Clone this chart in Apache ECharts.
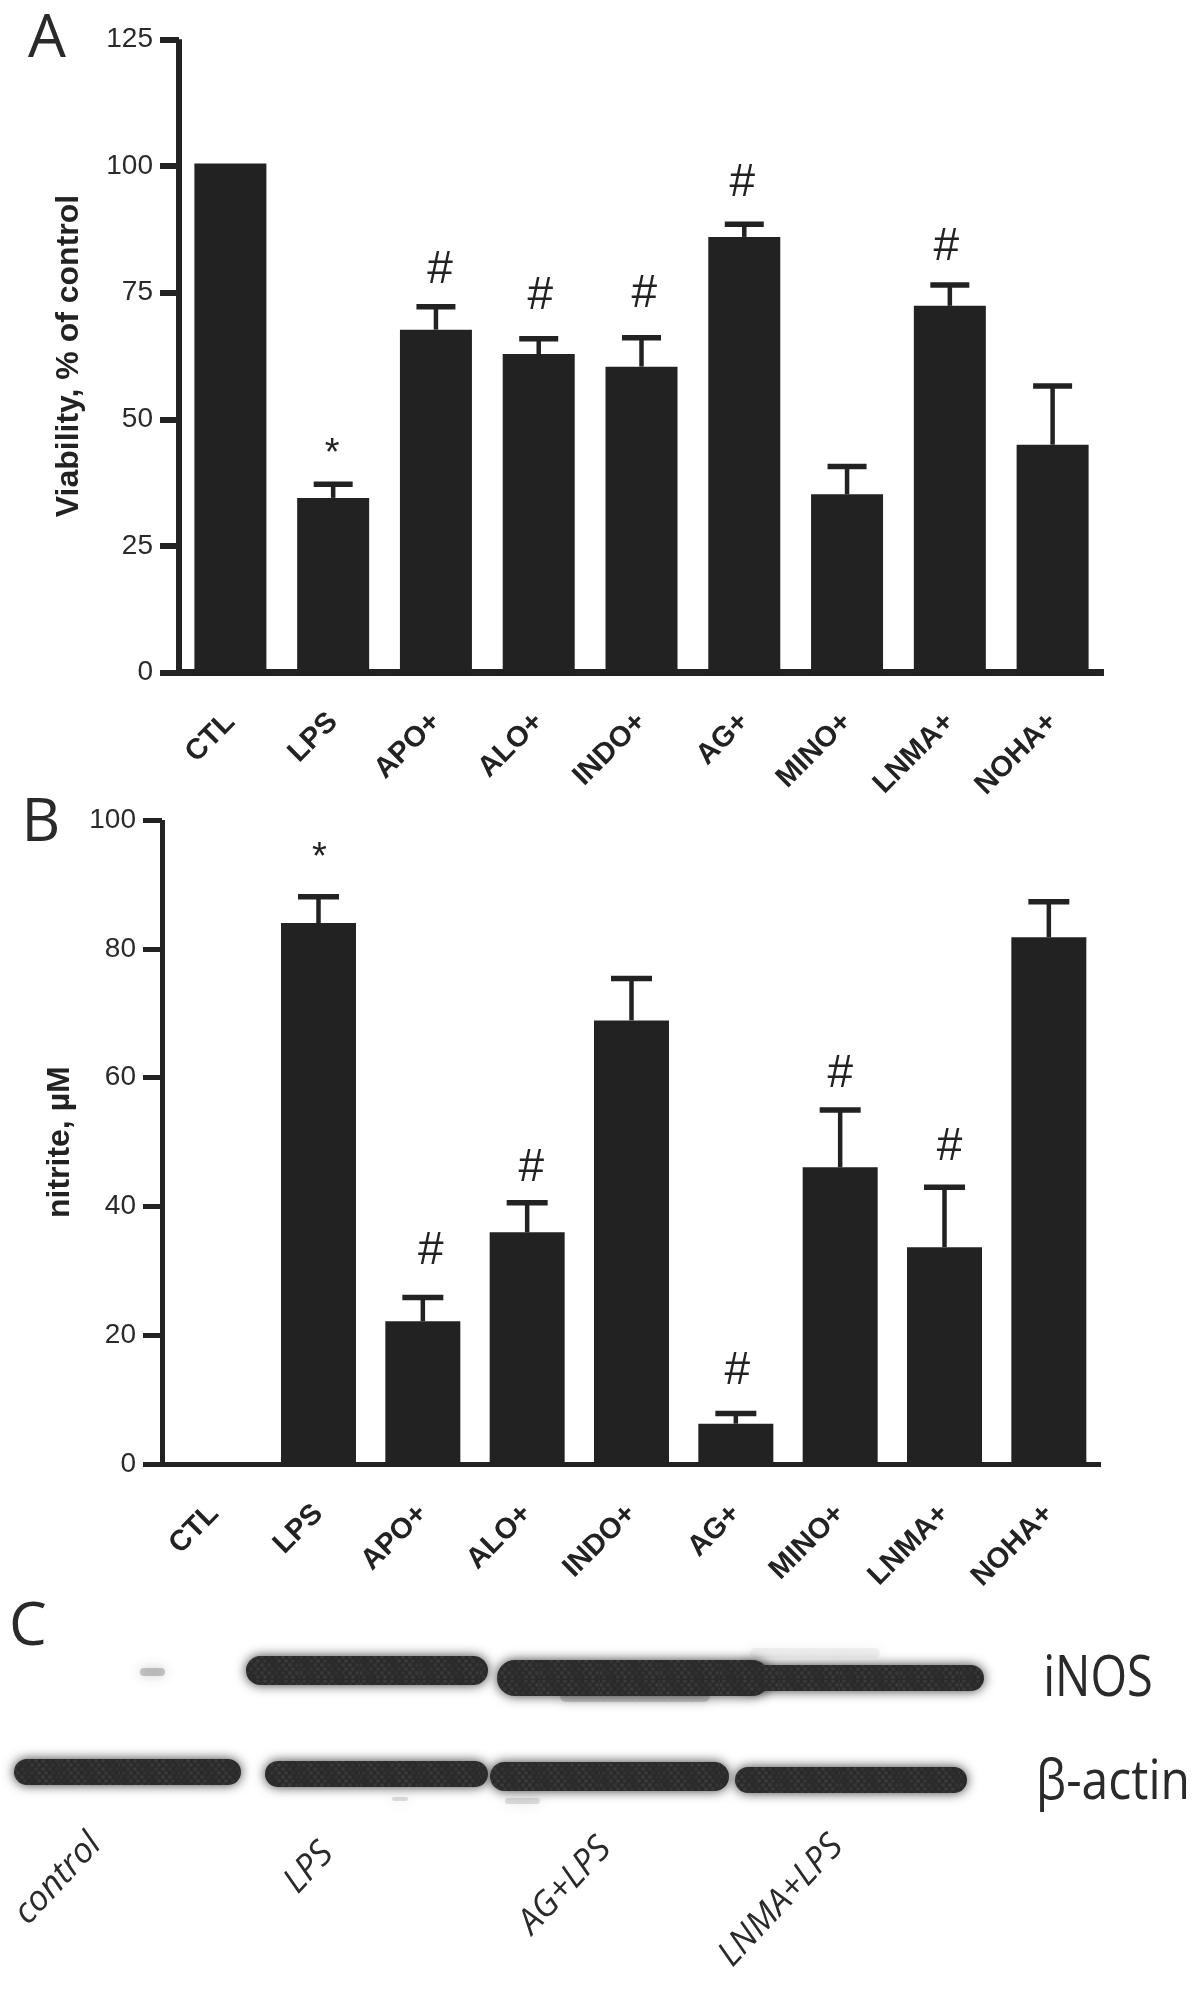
<!DOCTYPE html>
<html><head><meta charset="utf-8">
<style>html,body{margin:0;padding:0;background:#fff}#c{width:1200px;height:1991px}#c canvas{filter:blur(.6px)}</style>
<script src="https://cdn.jsdelivr.net/npm/echarts@6/dist/echarts.min.js"></script>
</head><body><div id="c"></div>
<script>
const categories = ['CTL','LPS','APO+','ALO+','INDO+','AG+','MINO+','LNMA+','NOHA+'];
const viabilityTicks = [0,25,50,75,100,125];
const viability = [100.5,34.5,67.7,62.9,60.4,86,35.2,72.4,45];
const viabilityErrTop = [null,37.2,72.2,65.9,66.1,88.5,40.7,76.5,56.6];
const viabilityMarks = ['', '*','#','#','#','#','','#',''];
const viabilityMarkY = [null,44.3,79.5,74.2,74.7,96.5,null,84,null];
const viabilityMarkDx = [0,-1,4,1.5,2.7,-2,0,-3.6,0];
const nitrite = [0,84,22.2,36,68.9,6.3,46.1,33.7,81.8];
const nitriteErrTop = [null,88.1,25.9,40.6,75.4,7.9,55,43,87.3];
const nitriteMarks = ['', '*','#','#','','#','#','#',''];
const nitriteMarkY = [null,94.9,33,46,null,14.4,60.6,49.2,null];
const nitriteMarkDx = [0,1,8,4,0,1.5,0,5,0];
// Western blot bands: [left, right, top, bottom, opacity] read in panel-C units
const blotBands = [
 [140,165,1668,1676,.25],[560,710,1690,1702,.2],[750,880,1648,1658,.06],
 [246,488,1656,1685,1],[497,770,1660,1696,1],[740,984,1665,1691,1],
 [14,241,1759,1785,1],[265,488,1761,1787,1],[490,729,1762,1791,1],[735,967,1767,1793,1],
 [392,408,1797,1801,.15],[505,540,1798,1804,.14]
];
const blotLanes = [
 {t:'control',x:58,y:1879},{t:'LPS',x:309,y:1868},{t:'AG+LPS',x:565,y:1886},{t:'LNMA+LPS',x:781,y:1901}
];
const INK = '#222222', FONT = '"Liberation Sans", Arial, sans-serif', OPEN = '"Open Sans", sans-serif';

function mottle(){
  const c = document.createElement('canvas'); c.width = c.height = 60;
  const g = c.getContext('2d'); g.fillStyle = '#2a2a2a'; g.fillRect(0,0,60,60);
  for (let y=0;y<60;y+=4) for (let x=(y%8)?0:3;x<60;x+=7){
    const a = .04 + .12*Math.abs(Math.sin(x*12.9+y*78.2));
    g.fillStyle = 'rgba(140,140,140,'+a.toFixed(2)+')';
    g.beginPath(); g.arc(x+1,y+1,2,0,6.3); g.fill();
  }
  return c;
}
const tex = mottle();

function barPanel(i, values, errTop, marks, markY, markDx, barW, capW){
  const rows = categories.map((c,k)=>[k, values[k], errTop[k]]);
  const mrows = categories.map((c,k)=>[k, markY[k], marks[k], markDx[k]]).filter(r=>r[2]);
  return [
   {type:'bar', xAxisIndex:i, yAxisIndex:i, data:values, barWidth:barW, z:2,
    itemStyle:{color:INK}, silent:true},
   {type:'custom', xAxisIndex:i, yAxisIndex:i, z:3, silent:true, clip:false,
    data:rows.filter(r=>r[2]!==null), encode:{x:0,y:[1,2]},
    renderItem:(p,api)=>{
      const a=api.coord([api.value(0),api.value(1)]), b=api.coord([api.value(0),api.value(2)]);
      return {type:'group',children:[
        {type:'line',shape:{x1:a[0],y1:a[1],x2:b[0],y2:b[1]},style:{stroke:INK,lineWidth:4.5,fill:null}},
        {type:'line',shape:{x1:a[0]-capW/2,y1:b[1],x2:a[0]+capW/2,y2:b[1]},style:{stroke:INK,lineWidth:5.5}}
      ]};
    }},
   {type:'custom', xAxisIndex:i, yAxisIndex:i, z:4, silent:true, clip:false,
    data:mrows, encode:{x:0,y:1},
    renderItem:(p,api)=>{
      const a=api.coord([api.value(0),api.value(1)]);
      const r=mrows[p.dataIndex], s=r[2];
      return {type:'text',style:{x:a[0]+r[3],y:a[1]+(s==='*'?6:0),text:s,align:'center',verticalAlign:'middle',
        fill:INK,font:(s==='*'?'38px ':'46px ')+FONT}};
    }}
  ];
}
function axes(i, opts){
  return {
   x:{type:'category',gridIndex:i,data:categories,
      axisLine:{onZero:false,lineStyle:{color:INK,width:opts.xw,cap:'butt'}},
      axisTick:{alignWithLabel:true,length:opts.tick,lineStyle:{color:INK,width:opts.tw}},
      axisLabel:{rotate:45,margin:opts.lm,interval:0,color:INK,fontFamily:FONT,fontWeight:'bold',fontSize:opts.lf}},
   y:{type:'value',gridIndex:i,min:0,max:opts.max,interval:opts.step,name:opts.name,nameLocation:'middle',nameGap:opts.gap,
      nameTextStyle:{color:INK,fontFamily:FONT,fontWeight:'bold',fontSize:opts.nf},
      axisLine:{show:true,lineStyle:{color:INK,width:opts.yw,cap:'butt'}},
      axisTick:{show:true,length:opts.tick,lineStyle:{color:INK,width:opts.tw}},
      axisLabel:{margin:26,color:'#2a2a2a',fontFamily:FONT,fontSize:28},
      splitLine:{show:false}}
  };
}
const A = axes(0,{xw:7,yw:6,tw:6,tick:19,lm:45,lf:29,max:viabilityTicks[viabilityTicks.length-1],step:viabilityTicks[1],
  name:'Viability, % of control',gap:94,nf:32});
const B = axes(1,{xw:5,yw:5,tw:5,tick:19,lm:45,lf:29,max:100,step:20,name:'nitrite, \u00b5M',gap:86,nf:32});

const text = (t,x,y,size,extra)=>Object.assign({type:'text',x,y,silent:true,
  style:{text:t,fill:'#2a2a2a',font:size+'px '+OPEN,align:'center',verticalAlign:'middle'}},extra||{});

const chart = echarts.init(document.getElementById('c'),null,{renderer:'canvas',width:1200,height:1991});
chart.setOption({
  animation:false, backgroundColor:'#fff',
  grid:[
   {left:179,top:39.3,width:925,height:633.4},
   {left:162,top:820,width:939,height:644.3},
   {left:0,top:1600,width:1200,height:391}
  ],
  xAxis:[A.x,B.x,{type:'value',gridIndex:2,min:0,max:1200,show:false}],
  yAxis:[A.y,B.y,{type:'value',gridIndex:2,min:1600,max:1991,inverse:true,show:false}],
  series:[
   ...barPanel(0,viability,viabilityErrTop,viabilityMarks,viabilityMarkY,viabilityMarkDx,72,39),
   ...barPanel(1,nitrite,nitriteErrTop,nitriteMarks,nitriteMarkY,nitriteMarkDx,75,41),
   {type:'custom',xAxisIndex:2,yAxisIndex:2,silent:true,clip:false,z:1,data:blotBands,encode:{x:[0,1],y:[2,3]},
    renderItem:(p,api)=>{
      const a=api.coord([api.value(0),api.value(2)]), b=api.coord([api.value(1),api.value(3)]);
      const h=b[1]-a[1], o=api.value(4);
      return {type:'rect',shape:{x:a[0],y:a[1],width:b[0]-a[0],height:h,r:h/2},
        style:{fill:{image:tex,repeat:'repeat'},opacity:o,shadowBlur:12,shadowColor:'rgba(40,40,40,.9)'}};
    }}
  ],
  graphic:[
   text('A',47,40,60),text('B',41,824,60),text('C',28,1628,60),
   text('iNOS',1098,1680,47,{scaleY:1.2,originY:0}),text('\u03b2-actin',1113,1783,48,{scaleY:1.15}),
   ...blotLanes.map(l=>({type:'text',x:l.x,y:l.y,silent:true,rotation:47*Math.PI/180,
     style:{text:l.t,fill:'#2a2a2a',font:'italic 35px '+OPEN,align:'center',verticalAlign:'middle'}}))
  ]
});
</script></body></html>
